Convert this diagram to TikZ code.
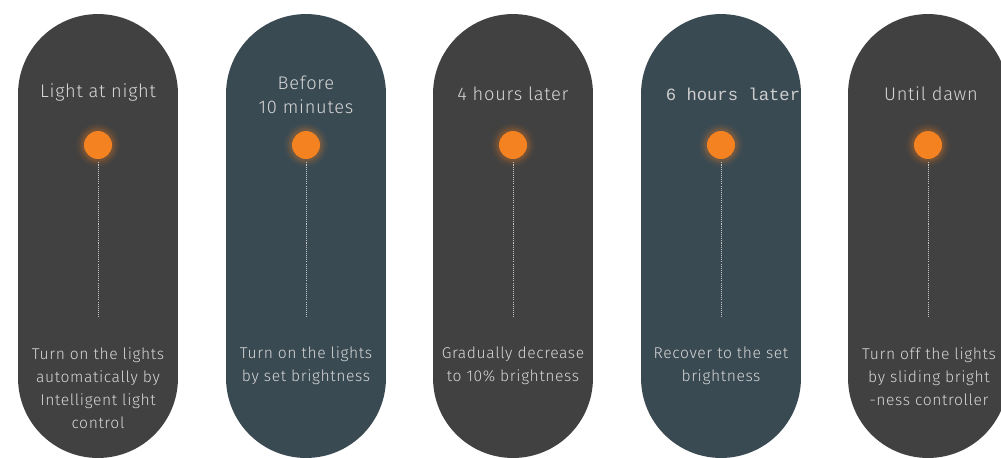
\documentclass[tikz,border=0pt]{standalone}
\usepackage{fontspec}
\setmainfont{Fira Sans Light}[LetterSpace=4]
\newfontfamily\monofont{Liberation Mono}
\definecolor{pillgray}{HTML}{414141}
\definecolor{pillblue}{HTML}{3A4A53}
\definecolor{dotorange}{HTML}{F58220}
\definecolor{txt}{HTML}{D6D6D6}
\begin{document}
\begin{tikzpicture}[x=0.02cm,y=-0.02cm,
  pill/.style={rectangle,rounded corners=1.6cm,minimum width=3.2cm,minimum height=8.88cm,inner sep=0pt,fill=#1},
  title/.style={text=txt,font=\fontsize{10.4}{13.5}\selectfont,align=center},
  desc/.style={text=txt,font=\fontsize{8.9}{13}\selectfont,align=center},
  dot/.style={circle,fill=dotorange,minimum size=0.56cm,inner sep=0pt},
  stem/.style={draw=txt!80!gray,line width=0.5pt,dash pattern=on 0.6pt off 0.6pt}]
\useasboundingbox (0,0) rectangle (1001,457);
\clip (0,0) rectangle (1001,457);
\foreach \i/\x/\c in {1/98/pillgray,2/306/pillblue,3/513/pillgray,4/721/pillblue,5/928/pillgray}{
  \node[pill=\c] (p\i) at (\x,236) {};
  \foreach \r/\o in {22/0.04,20/0.06,18/0.09,16.5/0.12}{
    \fill[dotorange,opacity=\o] (\x,145) circle[radius=\r];
  }
  \node[dot] (d\i) at (\x,145) {};
  \coordinate (e\i) at (\x,318);
  \draw[stem] (d\i.south) ++(0,3) -- (e\i);
}
\node[title] (t1) at (98,92) {Light at night};
\node[title] (t2) at (306,95) {Before\\10 minutes};
\node[title] (t3) at (513,94) {4 hours later};
\node[title,font=\monofont\fontsize{9.8}{12}\selectfont,text=txt!90!gray] (t4) at (733,94) {6 hours later};
\node[title] (t5) at (931,94) {Until dawn};
\node[desc] (b1) at (98,388) {Turn on the lights\\automatically by\\Intelligent light\\control};
\node[desc] (b2) at (306,366) {Turn on the lights\\by set brightness};
\node[desc] (b3) at (513,366) {Gradually decrease\\to 10\% brightness};
\node[desc] (b4) at (721,366) {Recover to the set\\brightness};
\node[desc] (b5) at (929,377) {Turn off the lights\\by sliding bright\\-ness controller};
\end{tikzpicture}
\end{document}
